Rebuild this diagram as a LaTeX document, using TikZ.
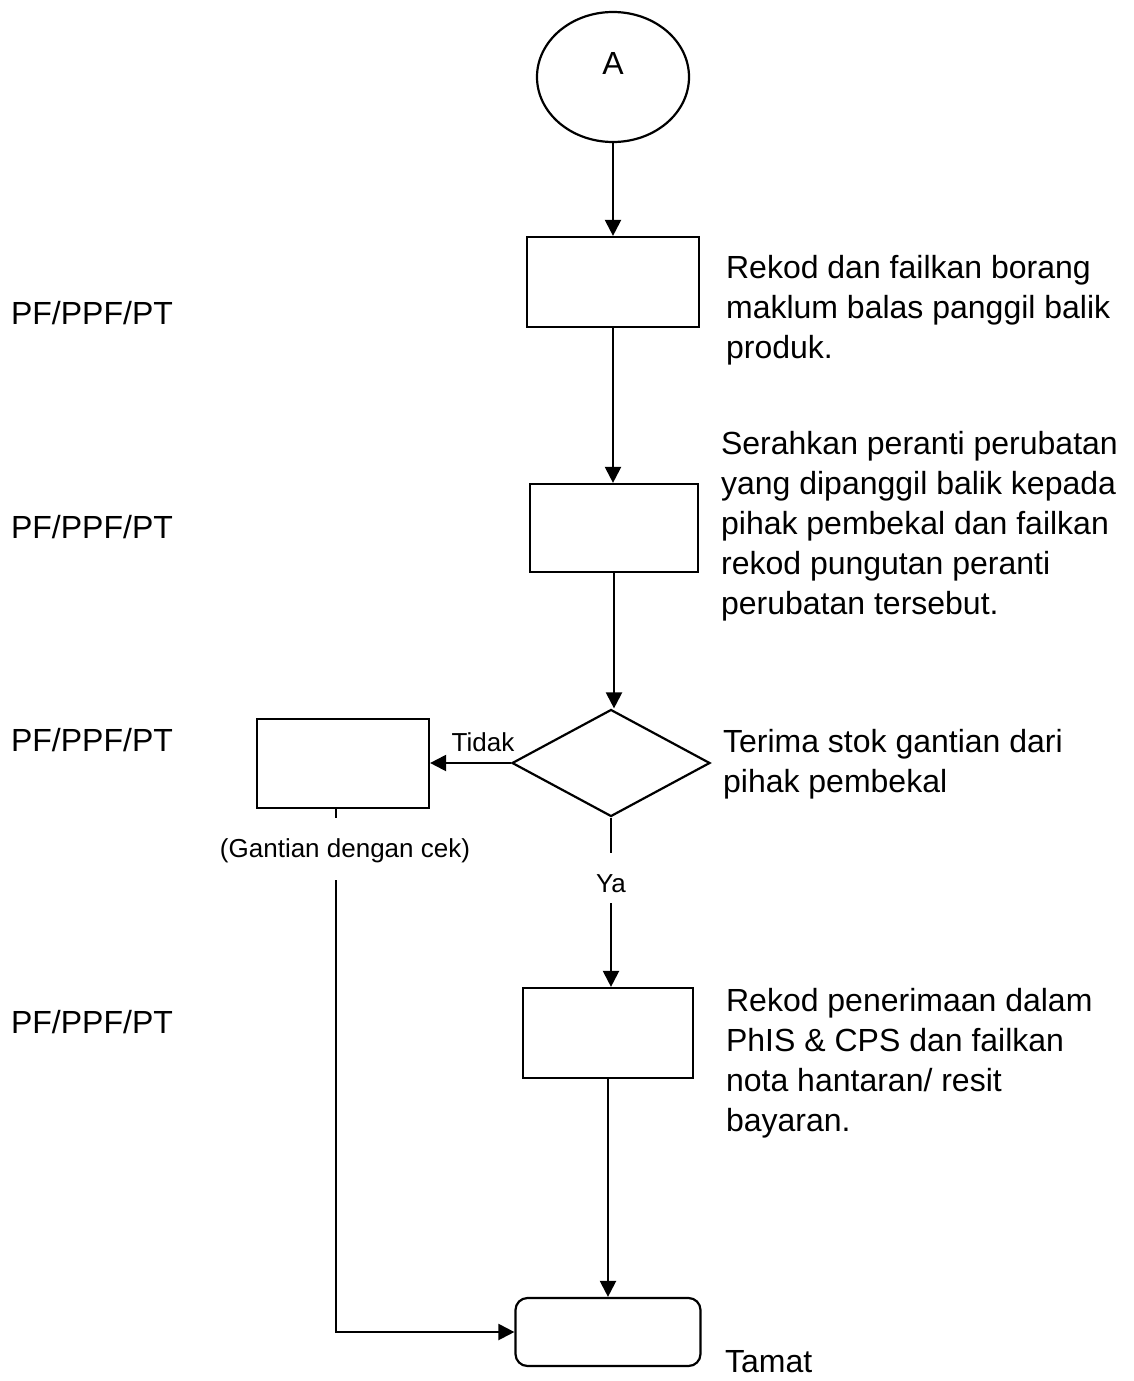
\documentclass[tikz,border=0pt]{standalone}
\usepackage{fontspec}
\setmainfont{Liberation Sans}
\usetikzlibrary{shapes.geometric,arrows.meta}
\begin{document}
\begin{tikzpicture}[x=1pt,y=-1pt,
  line width=2.2pt,
  arr/.style={-{Triangle[length=16pt,width=16pt]}},
  box/.style={draw,rectangle,inner sep=0pt},
  big/.style={font=\fontsize{32}{40}\selectfont,inner sep=0pt,align=left},
  small/.style={font=\fontsize{26}{32}\selectfont,inner sep=0pt}]
\useasboundingbox (0,0) rectangle (1133,1381);
% shapes
\node[draw,ellipse,minimum width=152pt,minimum height=130pt,inner sep=0pt] (A) at (613,77) {};
\node[big] (Al) at (613,63) {A};
\node[box,minimum width=172pt,minimum height=90pt] (b1) at (613,282) {};
\node[box,minimum width=168pt,minimum height=88pt] (b2) at (614,528) {};
\node[draw,diamond,minimum width=198pt,minimum height=107pt,inner sep=0pt] (d) at (611,763) {};
\node[box,minimum width=172pt,minimum height=89pt] (b3) at (343,763.5) {};
\node[box,minimum width=170pt,minimum height=90pt] (b4) at (608,1033) {};
\node[draw,rectangle,rounded corners=12pt,minimum width=185pt,minimum height=68pt,inner sep=0pt] (e) at (608,1332) {};
% labels
\node[small,anchor=base] (tidak) at (483,751.5) {Tidak};
\node[small,anchor=base] (ya) at (611,892.5) {Ya};
\node[small,anchor=base] (gc) at (345,857.5) {(Gantian dengan cek)};
\coordinate (ya1) at (611,853);
\coordinate (ya2) at (611,903);
\coordinate (t1) at (336,808);
\coordinate (t2) at (336,818);
\coordinate (g1) at (336,880);
% connectors
\draw[arr] (A.south) -- (A.south |- b1.north);
\draw[arr] (b1.south) -- (b1.south |- b2.north);
\draw[arr] (b2.south) -- (b2.south |- d.north);
\draw[arr] (d.west) -- (d.west -| b3.east);
\draw (d.south) -- (ya1);
\draw[arr] (ya2) -- (ya2 |- b4.north);
\draw[arr] (b4.south) -- (b4.south |- e.north);
\draw (t1) -- (t2);
\draw[arr] (g1) |- (e.west);
% side texts
\node[big,anchor=base west] (p1) at (10,324.5) {PF/PPF/PT};
\node[big,anchor=base west] (p2) at (10,538.5) {PF/PPF/PT};
\node[big,anchor=base west] (p3) at (10,751.5) {PF/PPF/PT};
\node[big,anchor=base west] (p4) at (10,1033.5) {PF/PPF/PT};
\node[big,anchor=base west] (r1) at (725,358.5) {Rekod dan failkan borang\\maklum balas panggil balik\\produk.};
\node[big,anchor=base west] (r2) at (720,614.5) {Serahkan peranti perubatan\\yang dipanggil balik kepada\\pihak pembekal dan failkan\\rekod pungutan peranti\\perubatan tersebut.};
\node[big,anchor=base west] (r3) at (722,792.5) {Terima stok gantian dari\\pihak pembekal};
\node[big,anchor=base west] (r4) at (725,1131.5) {Rekod penerimaan dalam\\PhIS \& CPS dan failkan\\nota hantaran/ resit\\bayaran.};
\node[big,anchor=base west] (tm) at (724,1372.5) {Tamat};
\end{tikzpicture}
\end{document}
